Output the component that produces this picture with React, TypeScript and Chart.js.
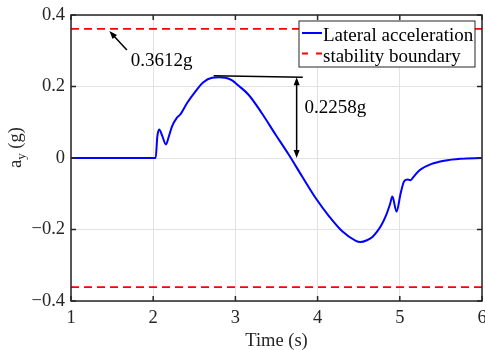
import React, { useEffect, useRef } from "react";
import { Chart, registerables } from "chart.js";

Chart.register(...registerables);

// ---- data ----
const timeS = [
  1, 2.03, 2.05, 2.073, 2.11, 2.155, 2.19, 2.228, 2.289, 2.33, 2.41, 2.51, 2.61, 2.716, 2.8,
  2.878, 2.96, 3.04, 3.16, 3.32, 3.49, 3.65, 3.81, 3.976, 4.14, 4.3, 4.46, 4.52, 4.6, 4.67, 4.73, 4.78,
  4.83, 4.88, 4.91, 4.96, 5.01, 5.05, 5.09, 5.13, 5.17, 5.24, 5.38, 5.54, 5.74, 6,
];
const lateralAcc = [
  0, 0, 0.06, 0.08, 0.062, 0.038, 0.06, 0.088, 0.113, 0.122, 0.153, 0.185, 0.212, 0.2246, 0.2258,
  0.2245, 0.217, 0.202, 0.177, 0.126, 0.065, 0.009, -0.051, -0.112, -0.163, -0.205, -0.231, -0.235, -0.23, -0.22, -0.204, -0.186,
  -0.162, -0.13, -0.108, -0.15, -0.099, -0.066, -0.06, -0.062, -0.052, -0.034, -0.017, -0.0075, -0.002, 0,
];
const boundaryTime = [1, 6];
const boundaryUpper = [0.3612, 0.3612];
const boundaryLower = [-0.3612, -0.3612];
const xTicks = [1, 2, 3, 4, 5, 6];
const yTicks = [-0.4, -0.2, 0, 0.2, 0.4];
const seriesLabels = ["Lateral acceleration", "stability boundary"];
const peakValue = 0.2258;
const boundaryValue = 0.3612;
const peakLabel = "0.2258g";
const boundaryLabel = "0.3612g";
const xTitle = "Time (s)";

// ---- style ----
const FONT = "Liberation Serif";
const FS = 18.5;
const FS_TXT = 19;
const AXIS = "#262626";
const BLUE = "#0000ff";
const RED = "#ff0000";

function arrowHead(ctx: CanvasRenderingContext2D, x1: number, y1: number, x2: number, y2: number) {
  const ang = Math.atan2(y2 - y1, x2 - x1);
  const L = 8, W = 3;
  ctx.beginPath();
  ctx.moveTo(x2, y2);
  ctx.lineTo(x2 - L * Math.cos(ang) + W * Math.sin(ang), y2 - L * Math.sin(ang) - W * Math.cos(ang));
  ctx.lineTo(x2 - L * Math.cos(ang) - W * Math.sin(ang), y2 - L * Math.sin(ang) + W * Math.cos(ang));
  ctx.closePath();
  ctx.fill();
}

const overlay = {
  id: "overlay",
  afterDatasetsDraw(chart: any) {
    const { ctx, chartArea: a, scales } = chart;
    const xs = scales.x, ys = scales.y;
    const px = (v: number) => xs.getPixelForValue(v);
    const py = (v: number) => ys.getPixelForValue(v);
    ctx.save();

    // frame
    ctx.strokeStyle = AXIS;
    ctx.lineWidth = 1.5;
    ctx.setLineDash([]);
    ctx.strokeRect(a.left, a.top, a.right - a.left, a.bottom - a.top);
    // inward tick marks
    const tl = 5;
    ctx.beginPath();
    xTicks.forEach((t) => {
      const x = px(t);
      ctx.moveTo(x, a.bottom); ctx.lineTo(x, a.bottom - tl);
      ctx.moveTo(x, a.top); ctx.lineTo(x, a.top + tl);
    });
    yTicks.forEach((t) => {
      const y = py(t);
      ctx.moveTo(a.left, y); ctx.lineTo(a.left + tl, y);
      ctx.moveTo(a.right, y); ctx.lineTo(a.right - tl, y);
    });
    ctx.stroke();

    // annotations
    ctx.strokeStyle = "#000";
    ctx.fillStyle = "#000";
    ctx.lineWidth = 1.5;
    // peak reference line
    ctx.beginPath();
    ctx.moveTo(px(2.735), py(0.23));
    ctx.lineTo(px(3.82), py(peakValue));
    ctx.stroke();
    // vertical double arrow
    const ax = px(3.745);
    const yTop = py(peakValue), yBot = py(0);
    ctx.beginPath();
    ctx.moveTo(ax, yTop + 4); ctx.lineTo(ax, yBot - 4);
    ctx.stroke();
    arrowHead(ctx, ax, yBot, ax, yTop);
    arrowHead(ctx, ax, yTop, ax, yBot);
    // boundary arrow
    const t1x = px(1.68), t1y = py(0.302), t2x = px(1.467), t2y = py(0.355);
    ctx.beginPath();
    ctx.moveTo(t1x, t1y); ctx.lineTo(t2x + (t1x - t2x) * 0.15, t2y + (t1y - t2y) * 0.15);
    ctx.stroke();
    arrowHead(ctx, t1x, t1y, t2x, t2y);
    ctx.font = `${FS_TXT}px "${FONT}"`;
    ctx.textAlign = "left";
    ctx.textBaseline = "alphabetic";
    ctx.fillText(boundaryLabel, px(1.728), py(0.256));
    ctx.fillText(peakLabel, px(3.84), py(0.1245));

    // legend
    const bw = 176, bh = 46;
    const bx = a.right - 7 - bw, by = a.top + 6;
    ctx.fillStyle = "#fff";
    ctx.fillRect(bx, by, bw, bh);
    ctx.strokeStyle = AXIS;
    ctx.lineWidth = 1;
    ctx.strokeRect(bx, by, bw, bh);
    ctx.lineWidth = 2;
    ctx.strokeStyle = BLUE;
    ctx.beginPath();
    ctx.moveTo(bx + 3, by + 12); ctx.lineTo(bx + 23, by + 12);
    ctx.stroke();
    ctx.strokeStyle = RED;
    ctx.setLineDash([6, 8]);
    ctx.beginPath();
    ctx.moveTo(bx + 3, by + 32.5); ctx.lineTo(bx + 23, by + 32.5);
    ctx.stroke();
    ctx.setLineDash([]);
    ctx.fillStyle = "#000";
    ctx.fillText(seriesLabels[0], bx + 24, by + 19.5);
    ctx.fillText(seriesLabels[1], bx + 24, by + 40.5);

    // axis titles
    ctx.fillStyle = AXIS;
    ctx.textAlign = "center";
    ctx.font = `${FS}px "${FONT}"`;
    ctx.fillText(xTitle, (a.left + a.right) / 2, 345.5);
    ctx.save();
    ctx.translate(21, 168);
    ctx.rotate(-Math.PI / 2);
    ctx.textAlign = "left";
    ctx.font = `${FS}px "${FONT}"`;
    ctx.fillText("a", 0, 0);
    const wa = ctx.measureText("a").width;
    ctx.font = `13px "${FONT}"`;
    ctx.fillText("y", wa, 3.5);
    const wy = ctx.measureText("y").width;
    ctx.font = `${FS}px "${FONT}"`;
    ctx.fillText(" (g)", wa + wy, 0);
    ctx.restore();

    ctx.restore();
  },
};

function fmt(v: number) {
  const r = Math.round(v * 10) / 10;
  if (r === 0) return "0";
  return r < 0 ? "\u2212" + String(Math.abs(r)) : String(r);
}

export default function App() {
  const ref = useRef<HTMLCanvasElement>(null);
  useEffect(() => {
    const canvas = ref.current;
    if (!canvas) return;
    const chart = new Chart(canvas, {
      type: "line",
      data: {
        datasets: [
          {
            label: seriesLabels[0],
            data: timeS.map((t, i) => ({ x: t, y: lateralAcc[i] })),
            borderColor: BLUE,
            borderWidth: 2,
            pointRadius: 0,
            cubicInterpolationMode: "monotone",
            fill: false,
          },
          {
            label: seriesLabels[1],
            data: boundaryTime.map((t, i) => ({ x: t, y: boundaryUpper[i] })),
            borderColor: RED,
            borderWidth: 1.6,
            borderDash: [8, 5],
            pointRadius: 0,
            fill: false,
          },
          {
            label: seriesLabels[1] + " (lower)",
            data: boundaryTime.map((t, i) => ({ x: t, y: boundaryLower[i] })),
            borderColor: RED,
            borderWidth: 1.6,
            borderDash: [8, 5],
            pointRadius: 0,
            fill: false,
          },
        ],
      },
      options: {
        animation: false,
        responsive: false,
        maintainAspectRatio: false,
        layout: { padding: { top: 15, right: 3, left: 0, bottom: 0 } },
        plugins: { legend: { display: false }, tooltip: { enabled: false } },
        scales: {
          x: {
            type: "linear",
            min: 1,
            max: 6,
            afterBuildTicks: (s: any) => { s.ticks = xTicks.map((v) => ({ value: v })); },
            afterFit: (s: any) => { s.height = 49; s.paddingLeft = 0; s.paddingRight = 0; },
            ticks: {
              stepSize: 1,
              maxRotation: 0,
              autoSkip: false,
              padding: 6,
              color: AXIS,
              font: { family: FONT, size: FS },
              callback: (v: any) => String(v),
            },
            grid: { color: "#e2e2e2", lineWidth: 1, drawTicks: false },
            border: { display: false },
          },
          y: {
            type: "linear",
            min: -0.4,
            max: 0.4,
            afterBuildTicks: (s: any) => { s.ticks = yTicks.map((v) => ({ value: v })); },
            afterFit: (s: any) => { s.width = 71; s.paddingTop = 0; s.paddingBottom = 0; },
            ticks: {
              stepSize: 0.2,
              autoSkip: false,
              padding: 6,
              color: AXIS,
              font: { family: FONT, size: FS },
              callback: (v: any) => fmt(Number(v)),
            },
            grid: { color: "#e2e2e2", lineWidth: 1, drawTicks: false },
            border: { display: false },
          },
        },
      },
      plugins: [overlay],
    } as any);
    return () => chart.destroy();
  }, []);
  return (
    <div style={{ position: "fixed", left: 0, top: 0, width: 485, height: 350, background: "#fff" }}>
      <canvas ref={ref} width={485} height={350} style={{ width: 485, height: 350, display: "block" }} />
    </div>
  );
}
